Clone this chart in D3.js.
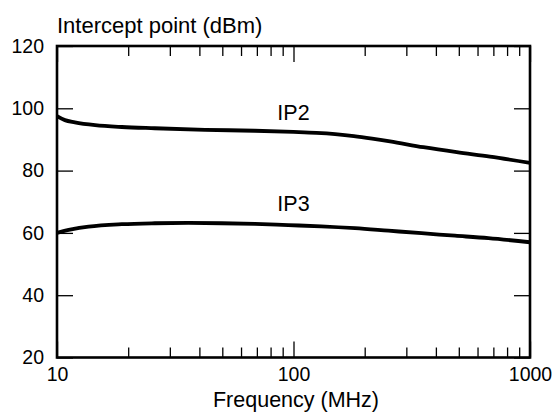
<!DOCTYPE html>
<html>
<head>
<meta charset="utf-8">
<script src="https://cdn.jsdelivr.net/npm/d3@7"></script>
<style>
    html, body { margin: 0; padding: 0; background: #fff; }
    svg { display: block; font-family: "Liberation Sans", Arial, Helvetica, sans-serif; }
</style>
</head>
<body>
<div id="chart"></div>
<script>
// values
const ip2Freq = [10, 10.8, 11.9, 14.5, 18.8, 25.9, 42.3, 68.6, 100, 125, 150, 180, 215, 256, 354, 490, 677, 1000];
const ip2Values = [97.5, 96.2, 95.5, 94.6, 94.0, 93.6, 93.1, 92.8, 92.4, 92.1, 91.7, 91.1, 90.3, 89.4, 87.5, 85.9, 84.5, 82.5];

const ip3Freq = [10, 11.5, 13.6, 18.8, 25.9, 35.9, 49.7, 68.7, 95, 131, 182, 252, 348, 482, 667, 1000];
const ip3Values = [60.0, 61.1, 62.0, 62.8, 63.1, 63.2, 63.1, 62.9, 62.5, 62.1, 61.5, 60.7, 59.9, 59.1, 58.3, 57.0];

const yTicks = [20, 40, 60, 80, 100, 120];
const xMajorTicks = [10, 100, 1000];
const xMinorTicks = [20, 30, 40, 50, 60, 70, 80, 90, 200, 300, 400, 500, 600, 700, 800, 900];

const seriesLabels = [
    { text: "IP2", freq: 100, value: 92.4, lift: 12 },
    { text: "IP3", freq: 100, value: 62.4, lift: 14 }
];

const width = 556;
const height = 414;
const margin = { top: 46, right: 26, bottom: 56.5, left: 57 };

const svg = d3.select("#chart").append("svg")
    .attr("width", width)
    .attr("height", height)
    .attr("viewBox", [0, 0, width, height]);

const xScale = d3.scaleLog()
    .domain([10, 1000])
    .range([margin.left, width - margin.right]);

const yScale = d3.scaleLinear()
    .domain([20, 120])
    .range([height - margin.bottom, margin.top]);

const plotBottom = height - margin.bottom;
const plotRight = width - margin.right;

function styleAxis(g, fontSize) {
    g.select(".domain").remove();
    g.selectAll(".tick line").attr("stroke", "#000").attr("stroke-width", 1.3);
    g.selectAll(".tick text")
        .attr("fill", "#000")
        .attr("font-size", fontSize)
        .attr("font-family", "Liberation Sans, Arial, sans-serif");
}

// bottom axis: minor + labelled major ticks
svg.append("g")
    .attr("transform", `translate(0, ${plotBottom})`)
    .call(d3.axisBottom(xScale).tickValues(xMinorTicks).tickSize(-10).tickFormat(""))
    .call((g) => styleAxis(g, 19));

svg.append("g")
    .attr("transform", `translate(0, ${plotBottom})`)
    .call(d3.axisBottom(xScale).tickValues(xMajorTicks).tickSize(-16).tickPadding(10).tickFormat(d3.format("d")))
    .call((g) => styleAxis(g, 19.5));

// top axis mirrors the bottom one
svg.append("g")
    .attr("transform", `translate(0, ${margin.top})`)
    .call(d3.axisTop(xScale).tickValues(xMinorTicks).tickSize(-10).tickFormat(""))
    .call((g) => styleAxis(g, 19));

svg.append("g")
    .attr("transform", `translate(0, ${margin.top})`)
    .call(d3.axisTop(xScale).tickValues(xMajorTicks).tickSize(-16).tickFormat(""))
    .call((g) => styleAxis(g, 19));

svg.append("g")
    .attr("transform", `translate(${margin.left}, 0)`)
    .call(d3.axisLeft(yScale).tickValues(yTicks).tickSize(-16).tickPadding(13))
    .call((g) => styleAxis(g, 19.5));

svg.append("g")
    .attr("transform", `translate(${plotRight}, 0)`)
    .call(d3.axisRight(yScale).tickValues(yTicks).tickSize(-16).tickFormat(""))
    .call((g) => styleAxis(g, 19));

// frame
svg.append("rect")
    .attr("x", margin.left)
    .attr("y", margin.top)
    .attr("width", plotRight - margin.left)
    .attr("height", plotBottom - margin.top)
    .attr("fill", "none")
    .attr("stroke", "#000")
    .attr("stroke-width", 2.6);

const line = d3.line()
    .x((d) => xScale(d[0]))
    .y((d) => yScale(d[1]))
    .curve(d3.curveMonotoneX);

[[ip2Freq, ip2Values], [ip3Freq, ip3Values]].forEach(([freq, values]) => {
    svg.append("path")
        .datum(d3.zip(freq, values))
        .attr("fill", "none")
        .attr("stroke", "#000")
        .attr("stroke-width", 3.8)
        .attr("stroke-linecap", "butt")
        .attr("d", line);
});

svg.append("g")
    .selectAll("text")
    .data(seriesLabels)
    .join("text")
    .attr("x", (d) => xScale(d.freq))
    .attr("y", (d) => yScale(d.value) - d.lift)
    .attr("text-anchor", "middle")
    .attr("font-size", 21.5)
    .attr("fill", "#000")
    .text((d) => d.text);

svg.append("text")
    .attr("x", margin.left)
    .attr("y", 33)
    .attr("font-size", 22)
    .attr("fill", "#000")
    .text("Intercept point (dBm)");

svg.append("text")
    .attr("x", 296)
    .attr("y", 407)
    .attr("text-anchor", "middle")
    .attr("font-size", 21.5)
    .attr("fill", "#000")
    .text("Frequency (MHz)");
</script>
</body>
</html>
